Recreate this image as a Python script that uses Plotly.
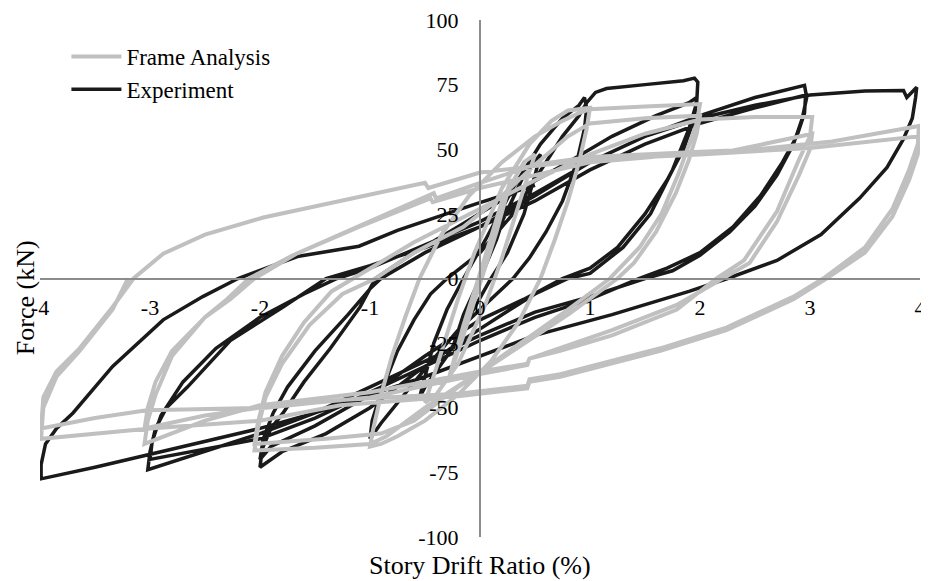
import plotly.graph_objects as go

# ---------------- data ----------------
x_ticks = [-4, -3, -2, -1, 0, 1, 2, 3, 4]
x_tick_labels = ["-4", "-3", "-2", "-1", "0", "1", "2", "3", "4"]
y_ticks = [-100, -75, -50, -25, 0, 25, 50, 75, 100]
y_tick_labels = ["-100", "-75", "-50", "-25", "0", "25", "50", "75", "100"]

series_names = ["Frame Analysis", "Experiment"]

# Experiment: story drift ratio (%) and force (kN), traced cycle by cycle
exp_drift = [
    0, 0.1, 0.25, 0.15, 0, -0.1, -0.25, -0.15, 0,
    0.2, 0.4, 0.55, 0.5, 0.4, 0.25, 0.1, -0.1, -0.3, -0.5, -0.55, -0.5, -0.42, -0.3, -0.15, 0.05,
    0.3, 0.55, 0.75, 0.9, 0.95, 0.97,
    0.95, 0.88, 0.75, 0.6, 0.45, 0.3, 0.1, -0.2, -0.5, -0.75, -0.9, -1.0,
    -0.98, -0.9, -0.75, -0.6, -0.45, -0.3, 0, 0.3, 0.55, 0.75, 0.9, 0.97,
    1.05, 1.15, 1.5, 1.85, 1.95, 1.98, 1.97, 1.9, 1.75, 1.55, 1.3, 1.0, 0.8, 0.5, 0.2, -0.2, -0.6, -1.0, -1.4, -1.8, -2.0,
    -1.98, -1.9, -1.79, -1.6, -1.36, -1.09, -0.95, -0.6, -0.2, 0.3, 0.8, 1.2, 1.6, 1.9, 1.97,
    1.95, 1.85, 1.7, 1.5, 1.25, 1.0, 0.75, 0.4, 0, -0.5, -1.0, -1.5, -1.9, -2.0,
    -1.97, -1.88, -1.75, -1.5, -1.2, -1.0, -0.9, -0.5, 0, 0.5, 1.0, 1.5, 2.0, 2.5, 2.95,
    2.97, 2.93, 2.85, 2.7, 2.5, 2.27, 2.0, 1.75, 1.5, 1.0, 0.5, 0, -0.5, -1.0, -1.5, -2.0, -2.5, -3.02,
    -3.0, -2.95, -2.85, -2.66, -2.27, -1.79, -1.4, -1.0, -0.5, 0, 0.5, 1.0, 1.5, 2.0, 2.5, 2.96,
    2.95, 2.88, 2.75, 2.55, 2.3, 2.0, 1.7, 1.45, 1.0, 0.5, 0, -0.5, -1.0, -1.5, -2.0, -2.5, -3.0,
    -2.98, -2.9, -2.7, -2.4, -2.0, -1.6, -1.3, -1.0, -0.5, 0, 0.5, 1.0, 1.5, 2.0, 2.5, 3.0, 3.5, 3.85, 3.88, 3.97,
    3.96, 3.93, 3.85, 3.7, 3.45, 3.1, 2.7, 2.25, 1.9, 1.2, 0.5, 0, -0.5, -1.0, -1.5, -2.0, -2.5, -3.0, -3.5, -3.99,
    -3.99, -3.95, -3.85, -3.7, -3.5, -3.34, -2.88, -2.52, -2.2, -1.66, -1.1, -0.75, -0.03, 0.5,
]
exp_force = [
    0, 12, 28, 15, 0, -12, -27, -14, 0,
    22, 40, 48, 40, 25, 10, 0, -15, -30, -42, -46, -38, -25, -12, 0, 15,
    35, 52, 62, 67, 70, 66,
    58, 45, 30, 18, 8, 0, -8, -20, -35, -48, -56, -62,
    -55, -44, -28, -16, -6, 0, 10, 25, 42, 55, 63, 68,
    72, 73.5, 75, 76.5, 77.5, 76, 68, 58, 42, 25, 12, 2, 0, -6, -14, -25, -37, -50, -60, -67, -73,
    -66, -58, -52, -40, -27, -11, 0, 10, 20, 33, 45, 55, 63, 68, 70,
    62, 50, 38, 25, 12, 4, 0, -8, -16, -30, -45, -57, -65, -70,
    -62, -52, -42, -28, -14, -4, 0, 10, 20, 32, 45, 55, 63, 70, 74.7,
    70, 62, 52, 40, 28, 18, 9, 3, 0, -7, -13, -22, -32, -42, -52, -60, -67, -74,
    -67, -58, -50, -42, -24, -11, 0, 5, 12, 20, 30, 42, 52, 60, 66, 71,
    64, 55, 45, 32, 20, 10, 4, 0, -8, -15, -24, -34, -44, -54, -62, -66, -70,
    -63, -53, -40, -27, -15, -6, 0, 4, 13, 22, 33, 45, 55, 62, 67, 71, 72.5, 72.7, 70, 74,
    70, 62, 54, 43, 31, 17, 7, 0, -5, -14, -22, -30, -38, -45, -52, -58, -63, -68, -73, -77.5,
    -72, -64, -58, -52, -42, -34, -16, -7, 0, 8.5, 12.5, 18.6, 29, 36,
]

# Frame analysis: story drift ratio (%) and force (kN)
fa_drift = [
    0, 0.15, 0.28, 0.15, 0, -0.15, -0.28, -0.15, 0,
    0.2, 0.4, 0.5, 0.4, 0.2, 0.05, -0.2, -0.4, -0.5, -0.4, -0.2, -0.05,
    0.2, 0.45, 0.65, 0.8, 1.0,
    0.97, 0.9, 0.8, 0.68, 0.55, 0.35, 0.1, -0.2, -0.5, -0.75, -0.9, -1.0,
    -0.97, -0.9, -0.8, -0.68, -0.55, -0.35, -0.1, 0.2, 0.5, 0.75, 0.9, 1.0,
    1.5, 2.0,
    1.97, 1.9, 1.8, 1.65, 1.45, 1.18, 0.8, 0.4, 0, -0.5, -0.85, -1.0, -1.5, -2.05,
    -2.02, -1.95, -1.8, -1.55, -1.25, -0.95, -0.6, -0.15, 0.2, 0.5, 0.8, 1.0, 1.5, 2.0,
    1.97, 1.9, 1.78, 1.6, 1.4, 1.25, 0.8, 0.3, -0.2, -0.6, -0.9, -1.4, -2.05,
    -2.02, -1.95, -1.8, -1.6, -1.35, -1.15, -0.6, 0, 0.5, 1.0, 1.5, 2.0, 2.5, 3.02,
    3.0, 2.9, 2.7, 2.4, 2.15, 1.79, 1.2, 0.73, 0.45, 0.43, 0, -1.0, -2.0, -2.5, -3.05,
    -3.02, -2.95, -2.8, -2.5, -2.27, -2.05, -1.67, -1.06, -0.42, -0.4, 0, 0.5, 1.0, 2.0, 2.3, 3.02,
    3.0, 2.9, 2.7, 2.45, 2.2, 1.8, 1.2, 0.73, 0.45, 0.43, 0, -1.0, -2.0, -2.5, -3.05,
    -3.02, -2.95, -2.8, -2.5, -2.3, -2.1, -1.7, -1.1, -0.45, -0.43, 0, 1.0, 2.0, 2.4, 3.2, 3.99,
    3.98, 3.9, 3.75, 3.5, 3.12, 2.85, 2.24, 1.64, 0.73, 0.45, 0.43, -0.18, -1.27, -1.94, -3.03, -3.5, -3.99,
    -3.97, -3.85, -3.64, -3.34, -3.15, -2.88, -2.5, -1.97, -1.36, -0.5, -0.47, 0, 1.0, 2.0, 3.0, 3.99,
    3.98, 3.9, 3.75, 3.5, 3.15, 2.85, 2.24, 1.64, 0.73, 0.45, 0.43, -0.18, -1.27, -2.0, -3.0, -3.99,
    -3.97, -3.85, -3.64, -3.34, -3.2,
]
fa_force = [
    0, 22, 38, 18, -2, -22, -38, -18, 2,
    30, 45, 48, 35, 8, -10, -33, -45, -48, -35, -8, 10,
    35, 52, 61, 65, 66,
    58, 45, 30, 15, 0, -17, -32, -45, -55, -61, -64, -65,
    -58, -45, -30, -15, 0, 17, 32, 45, 55, 61, 64, 65.5,
    66.5, 67.5,
    60, 52, 40, 25, 12, 0, -12, -24, -36, -50, -61, -64, -65.5, -66.5,
    -58, -46, -33, -18, -6, 0, 10, 20, 32, 44, 55, 60, 62, 63,
    56, 46, 33, 18, 6, 0, -14, -28, -42, -55, -60, -62, -64,
    -56, -44, -30, -17, -5, 0, 14, 27, 38, 48, 56, 61.5, 62.5, 62.5,
    55, 46, 26, 7, 0, -12, -22, -28, -31, -33.5, -37, -46, -50, -53, -58,
    -50, -40, -28, -15, -8, 0, 9.6, 21, 33, 31, 37, 44, 47, 49, 49.5, 56,
    50, 40, 22, 6, 0, -10, -20, -27, -31, -33, -36, -44, -49, -55, -64,
    -55, -45, -30, -15, -8, 0, 9, 20, 31, 29.5, 35, 45, 48.5, 49.5, 53, 59,
    52, 42, 27, 12, 0, -7, -19, -27, -37, -39, -41.5, -44.5, -47, -50, -51, -54, -58,
    -46, -36, -27, -11, 0, 9.6, 17, 23.6, 29, 37, 35, 41, 46, 48, 50.5, 55,
    48, 38, 24, 10, 0, -8, -20, -28, -38, -40, -42.5, -45.5, -49, -55, -58, -62,
    -50, -38, -28, -12, 0,
]

# ---------------- figure ----------------
FONT = "Liberation Serif"

fig = go.Figure()
fig.add_trace(go.Scatter(
    x=exp_drift, y=exp_force, mode="lines", name=series_names[1],
    line=dict(color="#1a1a1a", width=3.5), legendrank=2,
))
fig.add_trace(go.Scatter(
    x=fa_drift, y=fa_force, mode="lines", name=series_names[0],
    line=dict(color="#c0c0c0", width=4), legendrank=1,
))

axis_common = dict(
    showgrid=False, zeroline=False, showline=True, linecolor="#8c8c8c", linewidth=2,
    ticks="", tickfont=dict(family=FONT, size=22, color="#000000"),
    anchor="free", position=0.5, automargin=False, ticklabeloverflow="allow",
)
fig.update_layout(
    width=921, height=573,
    margin=dict(l=32, r=9, t=12, b=44),
    paper_bgcolor="white", plot_bgcolor="white",
    font=dict(family=FONT, color="#000000"),
    xaxis=dict(range=[-4, 4], tickvals=x_ticks, ticktext=x_tick_labels,
               ticklabelstandoff=9, **axis_common),
    yaxis=dict(range=[-100, 100], tickvals=y_ticks, ticktext=y_tick_labels,
               ticklabelstandoff=16, **axis_common),
    legend=dict(x=0.03, y=0.971, xanchor="left", yanchor="top",
                font=dict(family=FONT, size=23, color="#000000"),
                bgcolor="rgba(0,0,0,0)", tracegroupgap=0, itemwidth=50),
    showlegend=True,
    annotations=[
        dict(text="Story Drift Ratio (%)", x=0.5, xref="paper", y=-0.056, yref="paper",
             xanchor="center", yanchor="middle", showarrow=False,
             font=dict(family=FONT, size=26, color="#000000")),
        dict(text="Force (kN)", x=-0.017, xref="paper", y=0.462, yref="paper",
             xanchor="center", yanchor="middle", showarrow=False, textangle=-90,
             font=dict(family=FONT, size=26, color="#000000")),
    ],
)

fig.write_html("out.html")
